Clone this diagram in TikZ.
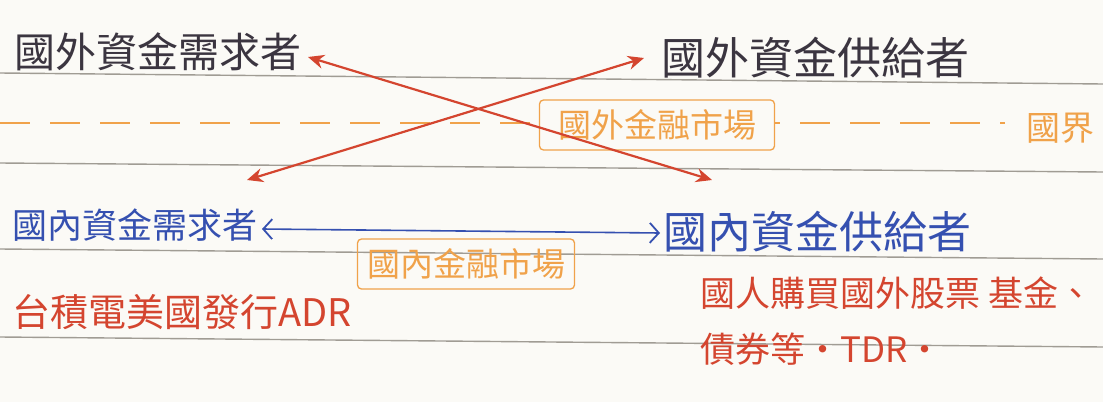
\documentclass[tikz,border=0pt]{standalone}
\usepackage{fontspec}
\newfontfamily\cjk{Noto Sans CJK TC}
\usetikzlibrary{arrows.meta}
\definecolor{paper}{HTML}{FBFAF6}
\definecolor{ink}{HTML}{3B3540}
\definecolor{inkblue}{HTML}{3550B0}
\definecolor{inkred}{HTML}{D4452F}
\definecolor{inkorange}{HTML}{F0A24A}
\definecolor{rulegrey}{HTML}{A09C94}
\tikzset{
  rulel/.style={draw=rulegrey, line width=1.4pt},
  border/.style={draw=inkorange, line width=1.6pt, dash pattern=on 30pt off 20pt},
  lbl/.style={inner sep=0pt, font=\cjk},
  mkt/.style={draw=inkorange, line width=1.3pt, rounded corners=4pt, text=inkorange, font=\cjk\fontsize{33}{35}\selectfont, inner sep=0pt},
  redarr/.style={draw=inkred, line width=2.2pt, {Stealth[length=16pt,width=14pt]}-{Stealth[length=16pt,width=14pt]}},
  bluearr/.style={draw=inkblue, line width=1.6pt, {Straight Barb[length=9pt,width=20pt,line width=1.8pt]}-{Straight Barb[length=9pt,width=20pt,line width=1.8pt]}}
}
\begin{document}
\begin{tikzpicture}[x=1pt,y=-1pt]
\fill[paper] (0,0) rectangle (1103,402);
\useasboundingbox (0,0) rectangle (1103,402);
% ruled lines
\draw[rulel] (0,73) -- (1103,84);
\draw[rulel] (0,163) -- (1103,172);
\draw[rulel] (0,249) -- (1103,259);
\draw[rulel] (0,337) -- (1103,347);
% national border
\draw[border] (0,123) -- (1005,123);
\node[lbl, text=inkorange, font=\cjk\fontsize{34}{36}\selectfont] (guojie) at (1060,128) {國界};
% labels
\node[lbl, text=ink, font=\cjk\fontsize{41}{44}\selectfont] (fd) at (158,52) {國外資金需求者};
\node[lbl, text=ink, font=\cjk\fontsize{44}{46}\selectfont] (fs) at (815,58) {國外資金供給者};
\node[lbl, text=inkblue, font=\cjk\fontsize{35}{38}\selectfont] (dd) at (135,225) {國內資金需求者};
\node[lbl, text=inkblue, font=\cjk\fontsize{44}{46}\selectfont] (ds) at (817,232) {國內資金供給者};
\node[mkt, fill=paper, minimum width=235pt, minimum height=50pt] (fm) at (657,125) {國外金融市場};
\node[mkt, minimum width=217pt, minimum height=50pt] (dm) at (466,264) {國內金融市場};
\node[lbl, text=inkred, font=\cjk\fontsize{38}{40}\selectfont] (adr) at (182,312) {台積電美國發行ADR};
\node[lbl, text=inkred, font=\cjk\fontsize{35}{56}\selectfont, align=left, anchor=north west] (tdr) at (700,277) {國人購買國外股票 基金、\\債券等·TDR·};
% arrow end points
\coordinate (a1) at (308,57);
\coordinate (a2) at (712,180);
\coordinate (b1) at (247,180);
\coordinate (b2) at (644,58);
\coordinate (c1) at (262,229);
\coordinate (c2) at (660,233);
\draw[redarr] (a1) -- (a2);
\draw[redarr] (b1) -- (b2);
\draw[bluearr] (c1) -- (c2);
\end{tikzpicture}
\end{document}
